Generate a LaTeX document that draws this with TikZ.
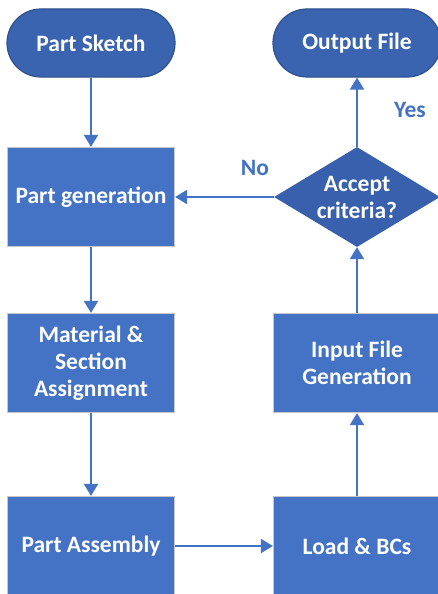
\documentclass[tikz,border=0pt]{standalone}
\usepackage{fontspec}
\setmainfont{Carlito}
\usetikzlibrary{shapes.geometric,arrows.meta}
\definecolor{boxblue}{HTML}{4472C4}
\definecolor{ovalblue}{HTML}{3A63B0}
\definecolor{ovaledge}{HTML}{2F528F}
\definecolor{diablue}{HTML}{3860AC}
\definecolor{boxedge}{HTML}{C8C8C8}
\tikzset{
  txt/.style={text=white, font=\bfseries\fontsize{23.5}{27}\selectfont, align=center, inner sep=0pt},
  procbox/.style={txt, rectangle, fill=boxblue, draw=boxedge, line width=1.2pt, minimum width=167pt, minimum height=99pt},
  termbox/.style={txt, rectangle, rounded corners=34pt, fill=ovalblue, draw=ovaledge, line width=1.2pt, minimum width=168pt, minimum height=68pt},
  decbox/.style={txt, diamond, aspect=1.66, fill=diablue, minimum width=166pt, minimum height=100pt},
  flow/.style={draw=boxblue, line width=2pt, -{Triangle[width=14pt,length=12pt]}},
  lab/.style={text=boxblue, font=\bfseries\fontsize{23.5}{27}\selectfont, inner sep=0pt}
}
\begin{document}
\begin{tikzpicture}[x=1pt,y=-1pt]
\useasboundingbox (0,0) rectangle (438,594);
\node[termbox] (ps) at (91,43) {Part Sketch};
\node[termbox] (of) at (357,43) {Output File};
\node[procbox] (pg) at (91,197) {Part generation};
\node[decbox] (ac) at (357,197) {Accept\\criteria?};
\node[procbox] (ms) at (91,363) {Material \&\\Section\\Assignment};
\node[procbox] (ig) at (357,363) {Input File\\Generation};
\node[procbox] (pa) at (91,546) {Part Assembly};
\node[procbox] (lb) at (357,546) {Load \& BCs};
\draw[flow] (ps) -- (pg);
\draw[flow] (pg) -- (ms);
\draw[flow] (ms) -- (pa);
\draw[flow] (pa) -- (lb);
\draw[flow] (lb) -- (ig);
\draw[flow] (ig) -- (ac);
\draw[flow] (ac) -- (of);
\draw[flow] (ac) -- (pg);
\node[lab] (yes) at (410,110) {Yes};
\node[lab] (no) at (255,168) {No};
\end{tikzpicture}
\end{document}
